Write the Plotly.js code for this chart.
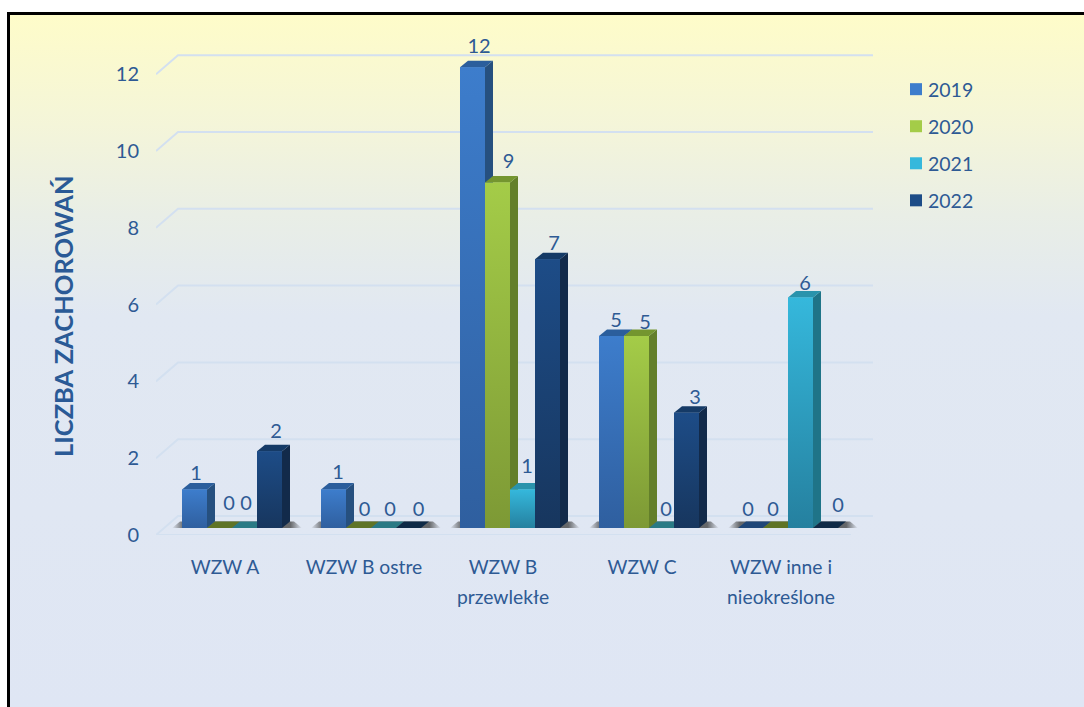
<!DOCTYPE html>
<html><head><meta charset="utf-8">
<script src="https://cdn.plot.ly/plotly-3.0.1.min.js"></script>
<style>
html,body{margin:0;padding:0;width:1084px;height:707px;overflow:hidden;background:#fff}
#panel{position:absolute;left:7px;top:12px;width:1077px;height:695px;box-sizing:border-box;
 border-left:3px solid #000;border-top:3px solid #000;
 background:linear-gradient(180deg,#FEFCC9 0px,#F4F5D9 110px,#E9EEE6 200px,#E1E8F2 300px,#DFE6F4 695px)}
#chart{position:absolute;left:0;top:0;width:1084px;height:707px}
</style></head><body>
<div id="panel"></div><div id="chart"></div>
<script>
const categories = ['WZW A','WZW B ostre','WZW B<br>przewlekłe','WZW C','WZW inne i<br>nieokreślone'];
const seriesNames = ['2019','2020','2021','2022'];
const values2019 = [1,1,12,5,0];
const values2020 = [0,0,9,5,0];
const values2021 = [0,0,1,0,6];
const values2022 = [2,0,7,3,0];
const yTicks = [0,2,4,6,8,10,12];

const allValues = [values2019,values2020,values2021,values2022];
const frontTop = ['#3D7DCC','#A4CC48','#35B8DC','#1D4C87'];
const frontBottom = ['#2F5F9F','#7D9935','#25809F','#17365E'];
const sideColor = ['#26507F','#637F2A','#1F7488','#122A4A'];
const topColor = ['#2B5E9C','#74962F','#2A93AC','#153A66'];
const flatColor = ['#1F4678','#5F7426','#2A7A85','#0F2A47'];
// label nudges in screen px relative to each bar's front centre / top edge
const nudgeX = [[1.5,4.5,6.5,4.5,-2.5],[9.5,6,11,8.5,-2.5],[1.5,6.5,4.5,4.5,4.5],[6.5,10,6.5,8.5,12.5]];
const nudgeUp = [[15,16,19,14,17],[23,17,19,12,17],[23,17,22,17,13],[18,17,14,14,21]];

const pxX = 139, pxY = 38.4;
const X = p => p/pxX, Y = p => p/pxY;
const barW = X(25), depthX = X(8), depthY = Y(6.5), base = Y(7);
const floorX = X(22), floorY = Y(19);
const textColor = '#2E5A94', gridColor = '#D3E0F0';
const font = 'Lato, "Open Sans", sans-serif';

const traces = [];
// real bars: carry the values and the legend
allValues.forEach((vals,s)=>traces.push({type:'bar',name:seriesNames[s],x:categories.map((c,i)=>i),y:vals,
  base:vals.map(()=>base),marker:{color:frontTop[s],line:{width:0}},legendgroup:seriesNames[s],hoverinfo:'none'}));

const poly = (xs,ys,extra) => traces.push(Object.assign({type:'scatter',x:xs.concat(xs[0]),y:ys.concat(ys[0]),
  mode:'none',fill:'toself',showlegend:false,hoverinfo:'skip'},extra));

// floor and walls
const xMin = -50/139-26/139, xMax = xMin + X(695);
yTicks.forEach(t=>{
  traces.push({type:'scatter',mode:'lines',x:[xMin,xMin+floorX,xMax+floorX],y:[t,t+floorY,t+floorY],
    line:{color:gridColor,width:2},showlegend:false,hoverinfo:'skip'});
});
traces.push({type:'scatter',mode:'lines',x:[xMin,xMax],y:[0,0],line:{color:gridColor,width:2},showlegend:false,hoverinfo:'skip'});

// floor shadows
categories.forEach((c,g)=>{
  const l = g-X(50)-X(10), r = g+X(50)+X(20);
  poly([l,r,r-depthX,l+depthX],[base,base,base+depthY,base+depthY],{
    fillgradient:{type:'horizontal',colorscale:[[0,'rgba(60,60,60,0)'],[0.09,'rgba(60,60,60,0.75)'],[0.91,'rgba(60,60,60,0.75)'],[1,'rgba(60,60,60,0)']]}});
});

// 3-D faces, left to right
categories.forEach((c,g)=>{
  allValues.forEach((vals,s)=>{
    const v = vals[g], xL = g-X(50)+s*barW, xR = xL+barW, top = base+v;
    if(v>0){
      poly([xR,xR+depthX,xR+depthX,xR],[base,base+depthY,top+depthY,top],{fillcolor:sideColor[s]});
    }
    poly([xL,xL+depthX,xR+depthX,xR],[top,top+depthY,top+depthY,top],{fillcolor:v>0?topColor[s]:flatColor[s]});
    if(v>0){
      poly([xL,xR,xR,xL],[base,base,top,top],{fillgradient:{type:'vertical',colorscale:[[0,frontBottom[s]],[1,frontTop[s]]]}});
    }
  });
});

// value labels
allValues.forEach((vals,s)=>traces.push({type:'scatter',mode:'text',showlegend:false,hoverinfo:'skip',cliponaxis:false,
  x:vals.map((v,g)=>g-X(50)+s*barW+barW/2+X(nudgeX[s][g])),
  y:vals.map((v,g)=>base+v+Y(nudgeUp[s][g])),
  text:vals.map(String),textposition:'middle center',textfont:{family:font,size:20,color:textColor}}));

const layout = {
  width:1084,height:707,autosize:false,
  paper_bgcolor:'rgba(0,0,0,0)',plot_bgcolor:'rgba(0,0,0,0)',
  margin:{l:156,r:211,t:30,b:172,pad:0},
  barmode:'group',bargap:39/139,bargroupgap:0,
  font:{family:font,color:textColor,size:18},
  showlegend:true,
  legend:{xref:'container',yref:'container',x:888/1084,y:1-70/707,xanchor:'left',yanchor:'top',
    bgcolor:'rgba(0,0,0,0)',font:{family:font,size:19.5,color:textColor},traceorder:'grouped',tracegroupgap:8.7,itemclick:false,itemdoubleclick:false},
  xaxis:{type:'linear',range:[(156-232)/139,(873-232)/139],tickmode:'array',
    tickvals:categories.map((c,i)=>i-X(7)),ticktext:categories,tickangle:0,
    showgrid:false,zeroline:false,showline:false,ticks:'',ticklabelstandoff:19,
    tickfont:{family:font,size:19.3,color:textColor},fixedrange:true},
  yaxis:{range:[0,505/38.4],tickmode:'array',tickvals:yTicks,ticktext:yTicks.map(String),
    showgrid:false,zeroline:false,showline:false,ticks:'',ticklabelstandoff:16,
    tickfont:{family:font,size:20,color:textColor},fixedrange:true},
  annotations:[{text:'<b>LICZBA ZACHOROWAŃ</b>',textangle:-90,xref:'paper',yref:'paper',showarrow:false,
    x:(63-156)/717,y:(535-316)/505,xanchor:'center',yanchor:'middle',font:{family:font,size:25.5,color:'#2A5A96'}}]
};

Plotly.newPlot('chart',traces,layout,{displayModeBar:false}).then(gd=>{
  // taller line spacing for two-line category labels, and swatches closer to the legend text
  gd.querySelectorAll('.xtick text').forEach(txt=>{
    txt.querySelectorAll('tspan.line').forEach((t,i)=>{ if(i>0) t.setAttribute('dy','30px'); });
  });
  gd.querySelectorAll('.legend .legendpoints').forEach(t=>t.setAttribute('transform','translate(8,0)'));
});
</script>
</body></html>
